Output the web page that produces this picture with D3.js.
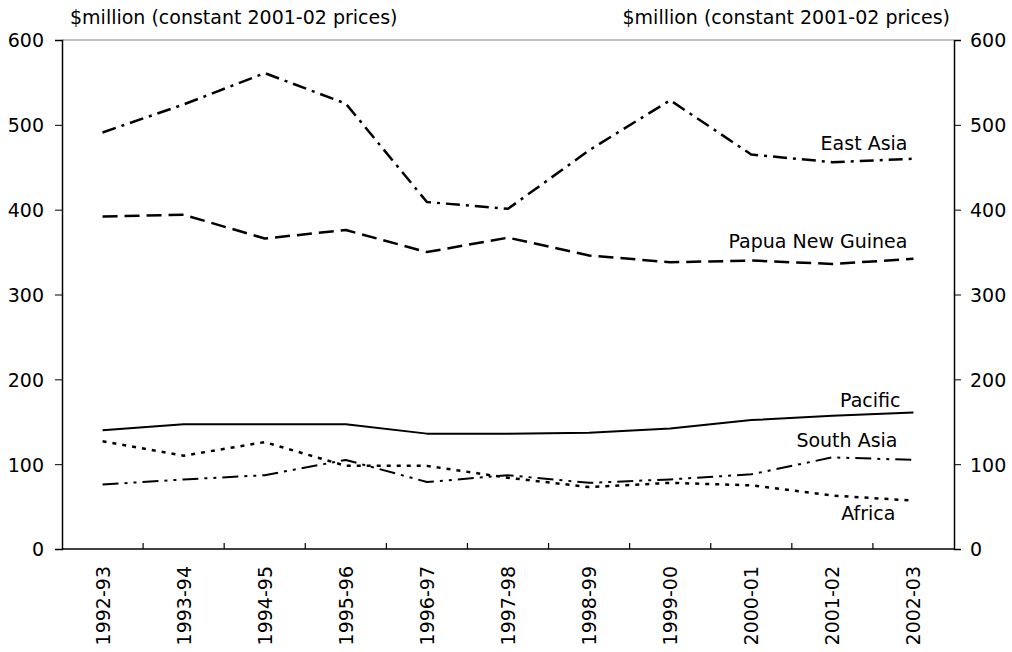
<!DOCTYPE html>
<html>
<head>
<meta charset="utf-8">
<script src="https://cdn.jsdelivr.net/npm/d3@7"></script>
<style>
  body { margin: 0; background: #fff; }
  text { font-family: "DejaVu Sans", Verdana, sans-serif; fill: #000; }
</style>
</head>
<body>
<svg width="1012" height="652"></svg>
<script>
// Financial years on the x axis
const years = ["1992-93", "1993-94", "1994-95", "1995-96", "1996-97", "1997-98",
  "1998-99", "1999-00", "2000-01", "2001-02", "2002-03"];

// Series values, $million (constant 2001-02 prices)
const eastAsia = [491, 524, 561, 525, 409, 401, 470, 529, 465, 456, 460];
const papuaNewGuinea = [392, 394, 366, 376, 350, 367, 346, 338, 340, 336, 342];
const pacific = [140, 147, 147, 147, 136, 136, 137, 142, 152, 157, 161];
const southAsia = [76, 82, 87, 105, 79, 87, 78, 82, 88, 108, 105];
const africa = [127, 110, 126, 98, 98, 84, 73, 78, 75, 63, 57];

const yTicks = [0, 100, 200, 300, 400, 500, 600];
const unitLabel = "$million (constant 2001-02 prices)";

// Dimensions
const margin = { top: 40, right: 58, bottom: 103, left: 62 };
const width = 1012 - margin.left - margin.right;
const height = 652 - margin.top - margin.bottom;
const fontSize = "19px";

const svg = d3.select("svg")
  .append("g")
  .attr("transform", "translate(" + margin.left + "," + margin.top + ")");

const x = d3.scaleBand().domain(years).range([0, width]);
const y = d3.scaleLinear().domain([0, 600]).range([height, 0]);

// Series definitions (name, values, line style, label offsets)
const series = [
  { name: "East Asia", values: eastAsia, dash: "14,6,3,6", w: 2.5, dx: -6, dy: -9 },
  { name: "Papua New Guinea", values: papuaNewGuinea, dash: "15,7", w: 2.5, dx: -6, dy: -11 },
  { name: "Pacific", values: pacific, dash: null, w: 2, dx: -13, dy: -5 },
  { name: "South Asia", values: southAsia, dash: "16,6,3,6,3,6", w: 2, dx: -16, dy: -13 },
  { name: "Africa", values: africa, dash: "4,6", w: 2.5, dx: -18, dy: 19 }
];

// Frame: grey top border
svg.append("line")
  .attr("x1", 0).attr("x2", width)
  .attr("y1", 0).attr("y2", 0)
  .attr("stroke", "#888").attr("stroke-width", 1.2);

// Left axis
const leftAxis = svg.append("g")
  .call(d3.axisLeft(y).tickValues(yTicks).tickSize(7).tickPadding(11));
leftAxis.select(".domain").attr("stroke-width", 1.5);
leftAxis.selectAll("text").style("font-size", fontSize).attr("dy", "0.36em");

// Right axis
const rightAxis = svg.append("g")
  .attr("transform", "translate(" + width + ",0)")
  .call(d3.axisRight(y).tickValues(yTicks).tickSize(7).tickPadding(9));
rightAxis.select(".domain").attr("stroke-width", 1.5);
rightAxis.selectAll("text").style("font-size", fontSize).attr("dy", "0.36em");

// Bottom axis line with inward ticks between categories
svg.append("line")
  .attr("x1", 0).attr("x2", width)
  .attr("y1", height).attr("y2", height)
  .attr("stroke", "#000").attr("stroke-width", 1.5);

svg.selectAll(".xtick")
  .data(years.slice(1))
  .enter().append("line")
  .attr("class", "xtick")
  .attr("x1", d => x(d)).attr("x2", d => x(d))
  .attr("y1", height).attr("y2", height - 6)
  .attr("stroke", "#000").attr("stroke-width", 1.2);

// Rotated year labels
svg.selectAll(".xlabel")
  .data(years)
  .enter().append("text")
  .attr("class", "xlabel")
  .attr("transform", d => "translate(" + (x(d) + x.bandwidth() / 2 + 7) + "," + (height + 17) + ") rotate(-90)")
  .style("text-anchor", "end")
  .style("font-size", fontSize)
  .text(d => d);

// Unit titles
svg.append("text")
  .attr("x", 8).attr("y", -16)
  .style("font-size", fontSize)
  .text(unitLabel);

svg.append("text")
  .attr("x", width - 4).attr("y", -16)
  .style("text-anchor", "end")
  .style("font-size", fontSize)
  .text(unitLabel);

// Lines
const line = d3.line()
  .x((d, i) => x(years[i]) + x.bandwidth() / 2)
  .y(d => y(d));

svg.selectAll(".series")
  .data(series)
  .enter().append("path")
  .attr("class", "series")
  .attr("d", d => line(d.values))
  .attr("fill", "none")
  .attr("stroke", "#000")
  .attr("stroke-width", d => d.w)
  .attr("stroke-dasharray", d => d.dash)
  .attr("stroke-linejoin", "round");

// Series labels next to the last point
const lastYear = years[years.length - 1];
svg.selectAll(".slabel")
  .data(series)
  .enter().append("text")
  .attr("class", "slabel")
  .attr("x", d => x(lastYear) + x.bandwidth() / 2 + d.dx)
  .attr("y", d => y(d.values[d.values.length - 1]) + d.dy)
  .style("text-anchor", "end")
  .style("font-size", fontSize)
  .text(d => d.name);
</script>
</body>
</html>
